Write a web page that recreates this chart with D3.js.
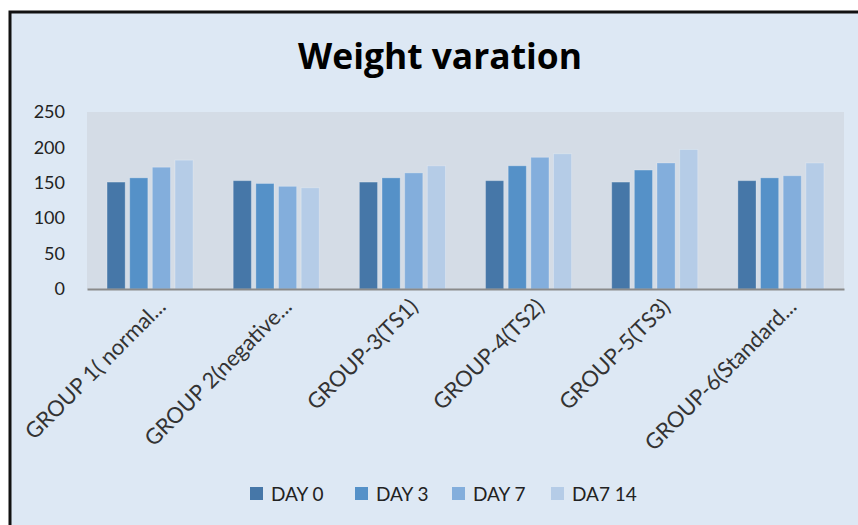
<!DOCTYPE html>
<html><head><meta charset="utf-8">
<script src="https://cdn.jsdelivr.net/npm/d3@7"></script>
<style>body{margin:0;background:#fff}svg{display:block}</style>
</head><body>
<svg id="c" width="858" height="525"></svg>
<script>
const categories = ["GROUP 1( normal...", "GROUP 2(negative...", "GROUP-3(TS1)", "GROUP-4(TS2)", "GROUP-5(TS3)", "GROUP-6(Standard..."];
const seriesNames = ["DAY 0", "DAY 3", "DAY 7", "DA7 14"];
const day0 = [151, 153, 151, 153, 151, 153];
const day3 = [157, 149, 157, 174, 168, 157];
const day7 = [172, 145, 164, 186, 178, 160];
const day14 = [182, 143, 174, 191, 197, 178];
const yTicks = [0, 50, 100, 150, 200, 250];
const colors = ["#4677A8", "#5591C8", "#83AEDC", "#B5CCE7"];
const series = [day0, day3, day7, day14];

const svg = d3.select("#c");
const font = "Lato, 'Open Sans', sans-serif";
svg.append("rect").attr("x", 10).attr("y", 12).attr("width", 860).attr("height", 520)
  .attr("fill", "#DDE8F4").attr("stroke", "#111").attr("stroke-width", 3);

const m = {left: 87, right: 844, top: 112, bottom: 289};
const x0 = d3.scaleBand().domain(categories).range([m.left, m.right]).paddingInner(0.3).paddingOuter(0.15);
const x1 = d3.scaleBand().domain(seriesNames).range([0, x0.bandwidth()]).paddingInner(0.2).paddingOuter(0.05);
const y = d3.scaleLinear().domain([0, 250]).range([m.bottom, m.top]);

svg.append("rect").attr("x", m.left).attr("y", m.top).attr("width", m.right - m.left).attr("height", m.bottom - m.top)
  .attr("fill", "#D4DCE6");

const title = svg.append("text").attr("x", 440).attr("y", 69).attr("text-anchor", "middle")
  .attr("font-family", "'Open Sans', sans-serif").attr("font-weight", "bold").attr("font-size", 30).attr("fill", "#000")
  .text("Weight varation");
const tw = title.node().getComputedTextLength();
title.attr("font-size", 30 * 284 / tw);

const g = svg.append("g");
categories.forEach((c, i) => {
  series.forEach((s, j) => {
    g.append("rect").attr("x", x0(c) + x1(seriesNames[j])).attr("y", y(s[i]))
      .attr("width", x1.bandwidth()).attr("height", y(0) - y(s[i]))
      .attr("fill", colors[j]).attr("stroke", "rgba(255,255,255,0.25)").attr("stroke-width", 1);
  });
});

const ya = svg.append("g").attr("transform", `translate(${m.left},0)`)
  .call(d3.axisLeft(y).tickValues(yTicks).tickSize(0).tickPadding(22));
ya.select(".domain").remove();
ya.selectAll("text").attr("font-family", font).attr("font-size", 18).attr("fill", "#222");

const xa = svg.append("g").attr("transform", `translate(0,${m.bottom})`)
  .call(d3.axisBottom(x0).tickSize(0).tickPadding(0));
xa.select(".domain").attr("stroke", "#8a8a8a").attr("stroke-width", 2);
const xt = xa.selectAll("text").attr("font-family", font).attr("font-size", 16).attr("fill", "#333")
  .attr("text-anchor", "end").attr("dy", "0").attr("y", 0);
const l0 = xt.nodes()[0].getComputedTextLength();
xt.attr("font-size", 16 * 188 / l0).attr("transform", "translate(17,19) rotate(-45)");

const legX = [250, 355, 452, 551];
seriesNames.forEach((n, j) => {
  svg.append("rect").attr("x", legX[j]).attr("y", 487).attr("width", 13).attr("height", 13).attr("fill", colors[j]);
  svg.append("text").attr("x", legX[j] + 21).attr("y", 501).attr("font-family", font).attr("font-size", 19)
    .attr("fill", "#222").text(n);
});
</script>
</body></html>
